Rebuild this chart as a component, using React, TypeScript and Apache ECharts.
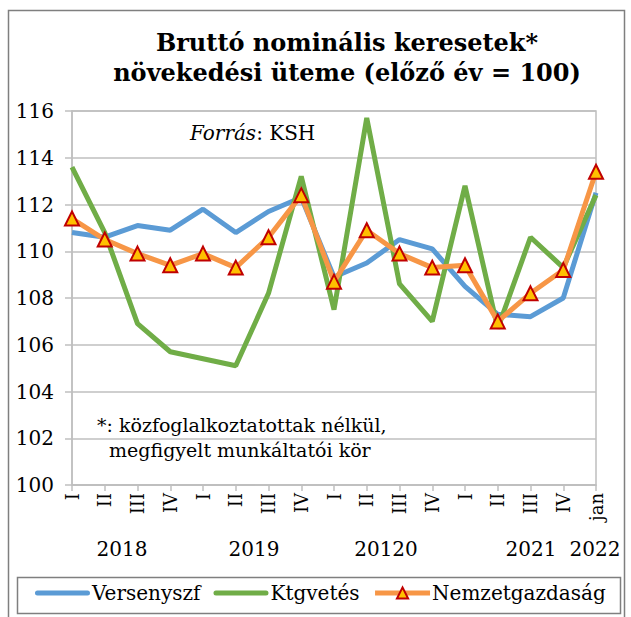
import React, { useEffect, useRef } from "react";
import * as echarts from "echarts";

const categories = ["I", "II", "III", "IV", "I", "II", "III", "IV", "I", "II", "III", "IV", "I", "II", "III", "IV", "jan"];
const yearLabels = ["2018", "2019", "20120", "2021", "2022"];
const yearLabelX = [122, 254, 386, 531, 595];
const versenyszf = [110.8, 110.6, 111.1, 110.9, 111.8, 110.8, 111.7, 112.3, 108.9, 109.5, 110.5, 110.1, 108.5, 107.3, 107.2, 108.0, 112.5];
const ktgvetes = [113.6, 110.8, 106.9, 105.7, 105.4, 105.1, 108.2, 113.2, 107.5, 115.7, 108.6, 107.0, 112.8, 106.7, 110.6, 109.3, 112.4];
const nemzetgazdasag = [111.4, 110.5, 109.9, 109.4, 109.9, 109.3, 110.6, 112.4, 108.7, 110.9, 109.9, 109.3, 109.4, 107.0, 108.2, 109.2, 113.4];
const seriesNames = ["Versenyszf", "Ktgvetés", "Nemzetgazdaság"];

const FONT = "DejaVu Serif";
const GRID = "#BFBFBF";
const BLUE = "#5B9BD5";
const GREEN = "#70AD47";
const ORANGE = "#F79646";
const LINE_ICON = "path://M5,0 H105 A5,5 0 0 1 105,10 H5 A5,5 0 0 1 5,0 Z";

export default function App() {
  const ref = useRef<HTMLDivElement>(null);
  useEffect(() => {
    if (!ref.current) return;
    const chart = echarts.init(ref.current, null, { renderer: "svg" });
    chart.setOption({
      animation: false,
      backgroundColor: "#fff",
      grid: { left: 72, right: 35, top: 111, bottom: 132, show: true, borderColor: GRID, borderWidth: 1.5 },
      xAxis: {
        type: "category",
        data: categories,
        boundaryGap: false,
        axisLine: { lineStyle: { color: GRID, width: 1.5 } },
        axisTick: { show: true, length: 6, lineStyle: { color: GRID, width: 1.5 } },
        axisLabel: { rotate: 90, fontFamily: FONT, fontSize: 18, color: "#000", margin: 8, interval: 0 },
      },
      yAxis: {
        type: "value",
        min: 100,
        max: 116,
        interval: 2,
        axisLine: { show: true, lineStyle: { color: GRID, width: 1.5 } },
        axisTick: { show: true, length: 7, lineStyle: { color: GRID, width: 1.5 } },
        splitLine: { lineStyle: { color: GRID, width: 1.5 } },
        axisLabel: { fontFamily: FONT, fontSize: 20, color: "#000", margin: 18 },
      },
      legend: {
        data: [
          { name: seriesNames[0], icon: LINE_ICON },
          { name: seriesNames[1], icon: LINE_ICON },
          { name: seriesNames[2] },
        ],
        left: 35,
        top: 583,
        itemWidth: 55,
        itemHeight: 14,
        itemGap: 13,
        padding: 0,
        lineStyle: { width: 5 },
        textStyle: { fontFamily: FONT, fontSize: 20, color: "#000", padding: [0, 0, 0, -3] },
      },
      series: [
        {
          name: seriesNames[0],
          type: "line",
          data: versenyszf,
          showSymbol: false,
          symbol: "none",
          lineStyle: { color: BLUE, width: 5 },
          itemStyle: { color: BLUE },
        },
        {
          name: seriesNames[1],
          type: "line",
          data: ktgvetes,
          showSymbol: false,
          symbol: "none",
          lineStyle: { color: GREEN, width: 5 },
          itemStyle: { color: GREEN },
        },
        {
          name: seriesNames[2],
          type: "line",
          data: nemzetgazdasag,
          symbol: "triangle",
          symbolSize: 14,
          lineStyle: { color: ORANGE, width: 5 },
          itemStyle: { color: "#FFC000", borderColor: "#C00000", borderWidth: 2 },
        },
      ],
      graphic: [
        {
          type: "rect",
          shape: { x: 8.5, y: 10.5, width: 616, height: 620 },
          style: { fill: "none", stroke: "#7F7F7F", lineWidth: 1.5 },
          silent: true,
          z: -10,
        },
        {
          type: "rect",
          shape: { x: 17.5, y: 577.5, width: 603, height: 36 },
          style: { fill: "none", stroke: "#7F7F7F", lineWidth: 1.5 },
          silent: true,
          z: -10,
        },
        {
          type: "text",
          x: 347,
          y: 27,
          style: {
            text: "Bruttó nominális keresetek*\nnövekedési üteme (előző év = 100)",
            fontFamily: FONT,
            fontSize: 24,
            fontWeight: "bold",
            lineHeight: 30,
            textAlign: "center",
            fill: "#000",
          },
        },
        {
          type: "text",
          x: 190,
          y: 123,
          style: {
            text: "{i|Forrás}{n|: KSH}",
            rich: {
              i: { fontFamily: FONT, fontSize: 20, fontStyle: "italic", fill: "#000" },
              n: { fontFamily: FONT, fontSize: 20, fill: "#000" },
            },
          },
        },
        {
          type: "text",
          x: 97,
          y: 412,
          style: {
            text: "*: közfoglalkoztatottak nélkül,\n  megfigyelt munkáltatói kör",
            fontFamily: FONT,
            fontSize: 19,
            lineHeight: 25,
            fill: "#000",
          },
        },
        ...yearLabels.map((t, i) => ({
          type: "text",
          x: yearLabelX[i],
          y: 539,
          style: { text: t, fontFamily: FONT, fontSize: 20, textAlign: "center", fill: "#000" },
        })),
      ],
    });
    return () => chart.dispose();
  }, []);
  return <div ref={ref} style={{ position: "fixed", left: 0, top: 0, width: 631, height: 617 }} />;
}
